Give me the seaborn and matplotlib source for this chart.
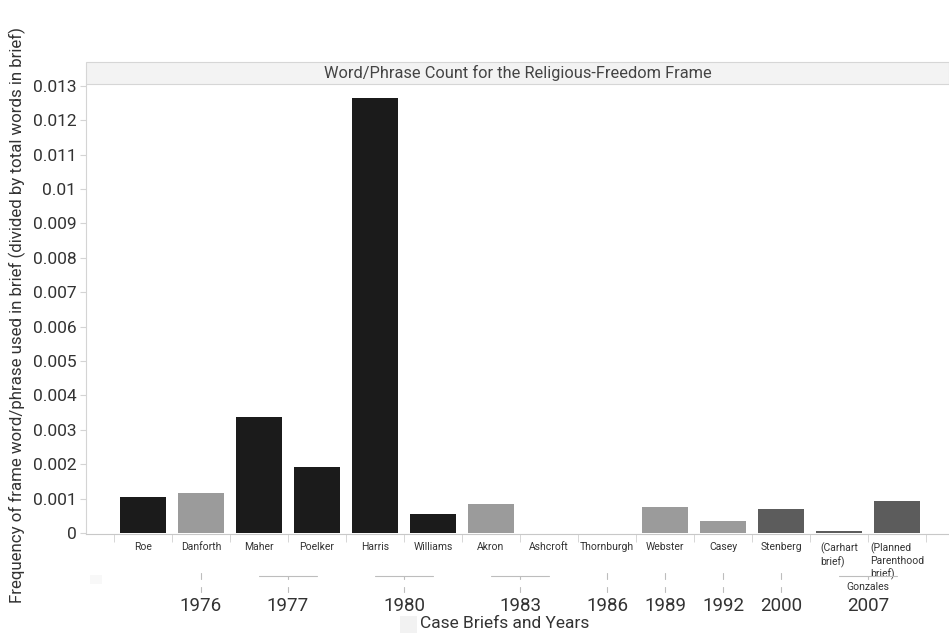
import numpy as np
import pandas as pd
import matplotlib
matplotlib.use("Agg")
import matplotlib.pyplot as plt
import matplotlib.transforms as mtransforms
from matplotlib.patches import Rectangle
import seaborn as sns

# ---- data ----
categories = ["Roe", "Danforth", "Maher", "Poelker", "Harris", "Williams", "Akron",
              "Ashcroft", "Thornburgh", "Webster", "Casey", "Stenberg",
              "(Carhart\nbrief)", "(Planned\nParenthood\nbrief)"]
values = [0.00105, 0.00116, 0.00337, 0.00192, 0.01265, 0.00055, 0.00084,
          0.0, 0.0, 0.00075, 0.00035, 0.00070, 0.00006, 0.00093]
years = ["", "1976", "1977", "1977", "1980", "1980", "1983", "1983",
         "1986", "1989", "1992", "2000", "2007", "2007"]
cases = ["", "", "", "", "", "", "", "", "", "", "", "", "Gonzales", "Gonzales"]
shades = ["black", "light", "black", "black", "black", "black", "light",
          "light", "light", "light", "light", "dark", "dark", "dark"]
yticks = [0, 0.001, 0.002, 0.003, 0.004, 0.005, 0.006, 0.007, 0.008, 0.009,
          0.01, 0.011, 0.012, 0.013]
ytick_labels = ["0", "0.001", "0.002", "0.003", "0.004", "0.005", "0.006", "0.007",
                "0.008", "0.009", "0.01", "0.011", "0.012", "0.013"]
title = "Word/Phrase Count for the Religious-Freedom Frame"
ylabel = "Frequency of frame word/phrase used in brief (divided by total words in brief)"
xlabel = "Case Briefs and Years"

shade_colors = {"black": "#1b1b1b", "light": "#9b9b9b", "dark": "#5c5c5c"}

sns.set_style("white")
plt.rcParams["font.family"] = ["Roboto", "DejaVu Sans"]

W, H = 949, 634
fig = plt.figure(figsize=(W / 100, H / 100), dpi=100)
ax = fig.add_axes([86 / W, (H - 534) / H, (W - 86) / W, 450 / H])

df = pd.DataFrame({"cat": categories, "val": values})
palette = [shade_colors[s] for s in shades]
sns.barplot(data=df, x="cat", y="val", hue="cat", palette=palette, legend=False,
            width=0.81, ax=ax, saturation=1, edgecolor="none")

n = len(categories)
ax.set_xlim(-0.5 - 28 / 58, n - 0.5 + 23 / 58)
ax.set_ylim(-0.00003, 0.01305)

# spines
for s in ["top", "right"]:
    ax.spines[s].set_visible(False)
ax.spines["left"].set_color("#d4d4d4")
ax.spines["bottom"].set_color("#c8c8c8")
ax.spines["left"].set_linewidth(0.8)
ax.spines["bottom"].set_linewidth(0.8)

# y axis
ax.set_yticks(yticks)
ax.set_yticklabels(ytick_labels)
ax.tick_params(axis="y", length=4, color="#d4d4d4", labelsize=12.5,
               labelcolor="#333333", pad=3, left=True)
ax.set_ylabel("")
fig.text(17 / W, 1 - 315 / H, ylabel, rotation=90, ha="center", va="center",
         fontsize=12.2, color="#333333")

# x axis category labels
ax.set_xticks(np.arange(n))
ax.set_xticklabels(categories)
ax.set_xticks(np.arange(n + 1) - 0.5, minor=True)
ax.tick_params(axis="x", which="major", length=0, pad=6, labelsize=7.5,
               labelcolor="#333333")
ax.tick_params(axis="x", which="minor", length=6, color="#d0d0d0", bottom=True)
for lbl in ax.get_xticklabels():
    lbl.set_verticalalignment("top")
    lbl.set_multialignment("left")
    lbl.set_linespacing(1.3)
ax.set_xlabel("")

# hierarchical year / case rows
trans = mtransforms.blended_transform_factory(ax.transData, fig.transFigure)
def fy(py):
    return 1 - py / H

line_kw = dict(color="#bdbdbd", lw=0.8, transform=trans, clip_on=False)

# find contiguous runs of years
runs = []
i = 0
while i < n:
    j = i
    while j + 1 < n and years[j + 1] == years[i]:
        j += 1
    runs.append((years[i], i, j))
    i = j + 1

for yr, a, b in runs:
    if yr == "":
        continue
    center = (a + b) / 2
    if b > a:
        ax.plot([a, b], [fy(576), fy(576)], **line_kw)
        ax.plot([center, center], [fy(576), fy(579)], **line_kw)
    else:
        ax.plot([center, center], [fy(573), fy(579)], **line_kw)
    case = cases[a]
    if case:
        ax.text(center, fy(587), case, ha="center", va="center", fontsize=7.5,
                color="#333333", transform=trans)
    else:
        ax.plot([center, center], [fy(587), fy(592)], **line_kw)
    ax.text(center, fy(606), yr, ha="center", va="center", fontsize=13.5,
            color="#333333", transform=trans)

# faint null-marker squares (as in the reference)
fig.patches.append(Rectangle((90 / W, 1 - 584 / H), 12 / W, 9 / H,
                             transform=fig.transFigure, facecolor="#f8f8f8",
                             edgecolor="none"))
fig.patches.append(Rectangle((400 / W, 1 - 633 / H), 17 / W, 17 / H,
                             transform=fig.transFigure, facecolor="#f2f2f2",
                             edgecolor="none"))

fig.text(505 / W, 1 - 623 / H, xlabel, ha="center", va="center",
         fontsize=12.5, color="#333333")

# title strip
strip_h = 22 / 450
ax.add_patch(Rectangle((0, 1.0), 1.0, strip_h, transform=ax.transAxes,
                       facecolor="#f3f3f3", edgecolor="#d6d6d6", lw=0.8,
                       clip_on=False, zorder=3))
ax.text(0.5, 1.0 + strip_h / 2, title, transform=ax.transAxes, ha="center",
        va="center", fontsize=11.8, color="#444444", zorder=4)

fig.savefig("out.png", dpi=100, facecolor="white")
